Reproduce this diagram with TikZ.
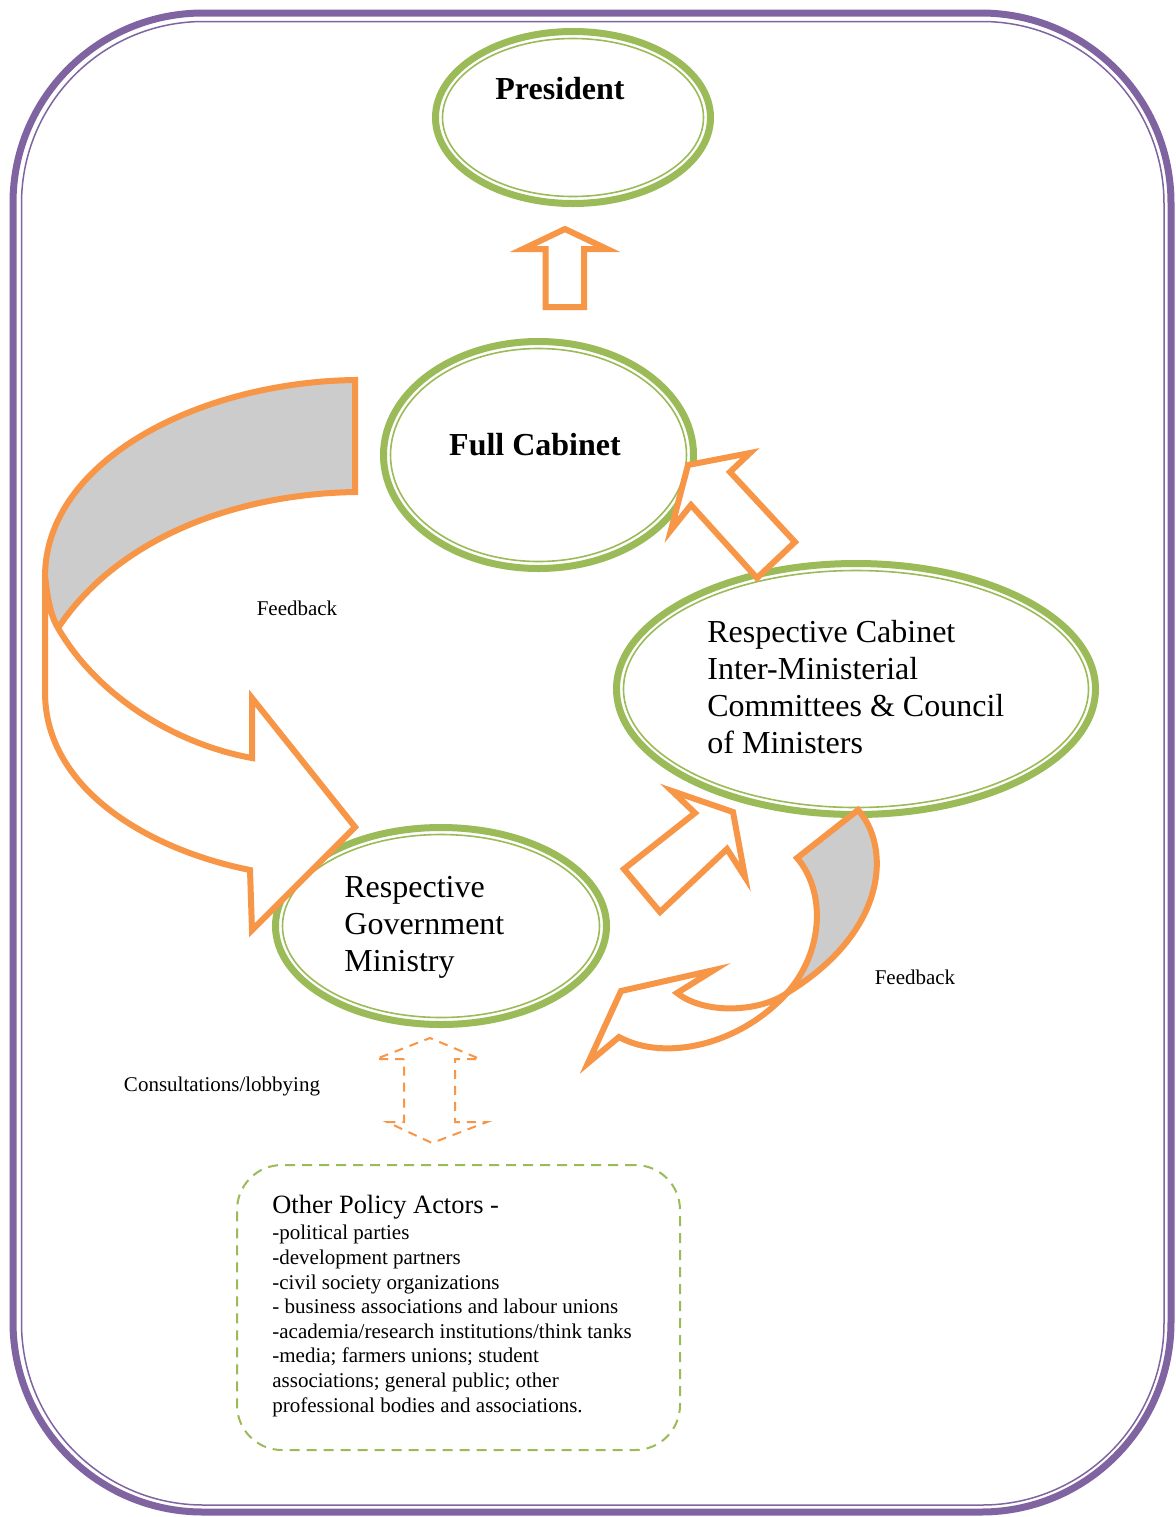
\documentclass[tikz,border=0pt]{standalone}
\usepackage{fontspec}
\setmainfont{Liberation Serif}
\usepackage{tikz}
\usetikzlibrary{shapes.geometric}

\definecolor{ringgreen}{HTML}{9BBB59}
\definecolor{arroworange}{HTML}{F79646}
\definecolor{framepurple}{HTML}{8064A2}
\definecolor{ribbongray}{HTML}{CCCCCC}

\begin{document}
\begin{tikzpicture}[x=0.5pt,y=-0.5pt,
  bubble/.style={shape=ellipse, draw=ringgreen, line width=3.5pt, inner sep=0pt},
  innerring/.style={draw=ringgreen, line width=0.8pt},
  blockarrow/.style={draw=arroworange, fill=white, line width=3pt, line join=miter},
  ribbonback/.style={draw=arroworange, fill=ribbongray, line width=3pt, line join=miter},
  dasharrow/.style={draw=arroworange, line width=1pt, dash pattern=on 4.5pt off 3.5pt},
  actorbox/.style={shape=rectangle, draw=ringgreen, line width=1pt, rounded corners=22.5pt, dash pattern=on 5pt off 3.5pt, inner sep=0pt},
  headtext/.style={font=\bfseries\fontsize{16}{18.5}\selectfont, inner sep=0pt},
  bodytext/.style={font=\fontsize{16}{18.5}\selectfont, align=left, inner sep=0pt},
  notetext/.style={font=\fontsize{10.5}{12.3}\selectfont, align=left, inner sep=0pt}]

\fill[white] (0,0) rectangle (1176,1517);

% frame
\draw[framepurple, line width=3.5pt, rounded corners=95pt] (13,13) rectangle (1171,1512);
\draw[framepurple, line width=0.75pt, rounded corners=91pt] (21.5,21.5) rectangle (1164,1505);

% ellipses
\node[bubble, minimum width=137.5pt, minimum height=86pt](pres) at (573,117.5) {};
\node[bubble, minimum width=155pt, minimum height=113.5pt](fullcab) at (538.5,455) {};
\node[bubble, minimum width=239.5pt, minimum height=125.5pt](cab) at (856,689) {};
\node[bubble, minimum width=165.5pt, minimum height=98.5pt](ministry) at (441,926) {};

\draw[innerring] (pres.center) ellipse [x radius=65.25pt, y radius=39.5pt];
\draw[innerring] (fullcab.center) ellipse [x radius=74pt, y radius=53.25pt];
\draw[innerring] (cab.center) ellipse [x radius=116.25pt, y radius=59.25pt];
\draw[innerring] (ministry.center) ellipse [x radius=79.25pt, y radius=45.75pt];

\node[headtext](prestxt) at (560,89) {President};
\node[headtext](fullcabtxt) at (535,445) {Full Cabinet};
\node[bodytext, anchor=north west](cabtxt) at (707,620) {Respective Cabinet\\Inter-Ministerial\\Committees \& Council\\of Ministers};
\node[bodytext, anchor=north west](ministrytxt) at (344,876) {Respective\\Government\\Ministry};

% straight block arrows
\path[blockarrow] (545.5,307) -- (545.5,249) -- (523,249) -- (565,229) -- (607,249) -- (584,249) -- (584,307) -- cycle;
\path[blockarrow] (691,505) -- (671,530) -- (688,465) -- (750,453) -- (730,472) -- (795,542) -- (757,578) -- cycle;
\path[blockarrow] (695,813) -- (672,791) -- (733,812) -- (745,877) -- (727,849) -- (660,912) -- (624,869) -- cycle;

% left feedback ribbon
\path[ribbonback] (355,380) .. controls (200,382) and (45,460) .. (45,577)
  .. controls (48,605) and (52,618) .. (58,628)
  .. controls (120,535) and (240,494) .. (355,492) -- cycle;
\path[blockarrow] (45,577) -- (45,692) .. controls (45,790) and (150,850) .. (250,870)
  -- (252,930) -- (355,827) -- (252,698) -- (252,758)
  .. controls (180,745) and (100,700) .. (58,628)
  .. controls (52,618) and (48,605) .. (45,577) -- cycle;

% right feedback ribbon
\path[ribbonback] (858,810) .. controls (890,845) and (890,930) .. (787,993)
  .. controls (825,950) and (825,890) .. (797,858) -- cycle;
\path[blockarrow] (787,993) .. controls (760,1012) and (705,1015) .. (677,993)
  -- (714,970) -- (621,991) -- (588,1063) -- (619,1037)
  .. controls (665,1062) and (740,1045) .. (787,993) -- cycle;

% consultations
\path[dasharrow] (404,1059) -- (376,1059) -- (430,1038) -- (480,1059) -- (455,1059) -- (455,1122)
  -- (487,1122) -- (432,1143) -- (387,1122) -- (404,1122) -- cycle;

\node[actorbox, minimum width=221.5pt, minimum height=142.5pt](actors) at (458.5,1307.5) {};

\node[notetext](fbleft) at (297,608) {Feedback};
\node[notetext](fbright) at (915,977) {Feedback};
\node[notetext](consult) at (222,1086) {Consultations/lobbying};

\node[font=\fontsize{13.2}{15}\selectfont, inner sep=0pt, anchor=base west](actorstitle) at (272,1213) {Other Policy Actors -};
\node[notetext, anchor=north west](actorlist) at (272,1225) {-political parties\\-development partners\\-civil society organizations\\- business associations and labour unions\\-academia/research institutions/think tanks\\-media; farmers unions; student\\associations; general public; other\\professional bodies and associations.};

\end{tikzpicture}
\end{document}
